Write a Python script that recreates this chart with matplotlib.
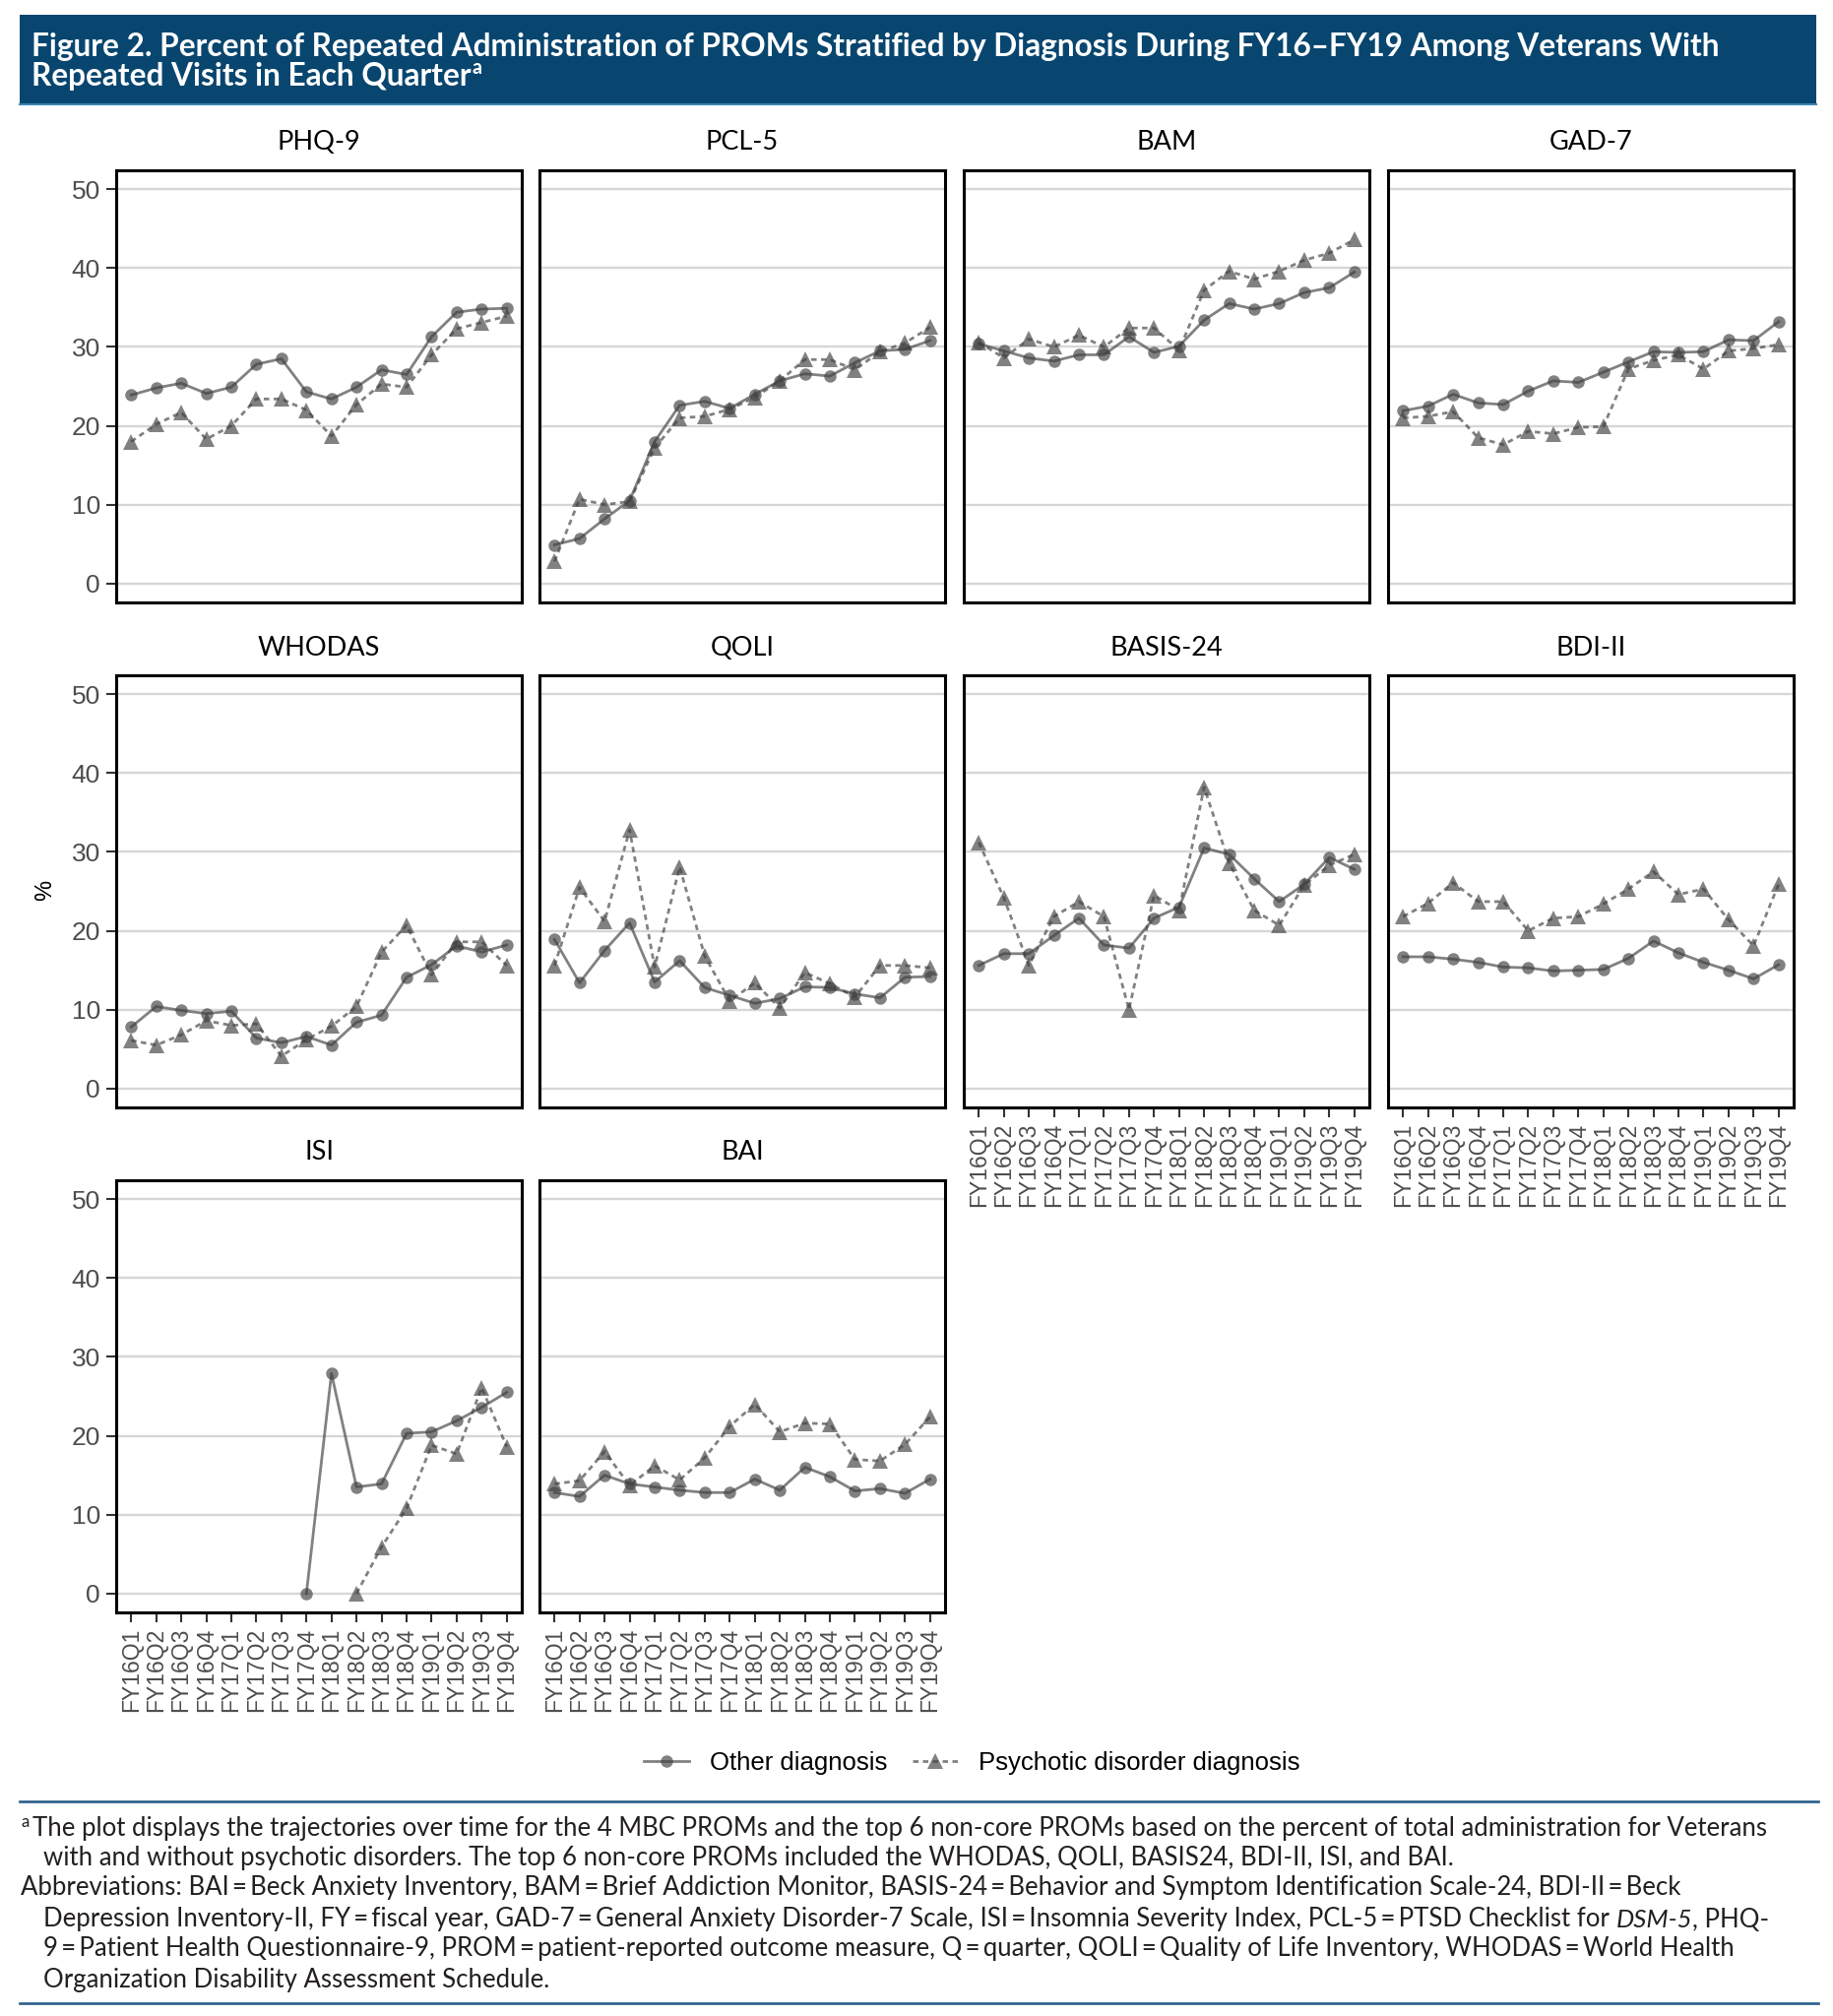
import matplotlib
matplotlib.use("Agg")
import matplotlib.pyplot as plt
from matplotlib.patches import Rectangle
from matplotlib.lines import Line2D
import numpy as np

nan = np.nan

quarters = ["FY16Q1", "FY16Q2", "FY16Q3", "FY16Q4", "FY17Q1", "FY17Q2", "FY17Q3", "FY17Q4",
            "FY18Q1", "FY18Q2", "FY18Q3", "FY18Q4", "FY19Q1", "FY19Q2", "FY19Q3", "FY19Q4"]
panel_names = ["PHQ-9", "PCL-5", "BAM", "GAD-7", "WHODAS", "QOLI", "BASIS-24", "BDI-II", "ISI", "BAI"]
series_names = ["Other diagnosis", "Psychotic disorder diagnosis"]

phq9_other = [23.9, 24.8, 25.4, 24.1, 24.9, 27.8, 28.5, 24.3, 23.4, 24.9, 27.1, 26.5, 31.3, 34.4, 34.8, 34.9]
phq9_psych = [18.0, 20.2, 21.7, 18.3, 20.0, 23.4, 23.4, 22.0, 18.7, 22.7, 25.3, 24.9, 29.0, 32.3, 33.1, 33.9]
pcl5_other = [4.9, 5.7, 8.2, 10.5, 18.0, 22.6, 23.1, 22.2, 24.0, 25.7, 26.6, 26.3, 28.0, 29.5, 29.7, 30.8]
pcl5_psych = [2.8, 10.7, 10.0, 10.4, 17.2, 21.0, 21.2, 22.1, 23.6, 25.7, 28.4, 28.4, 27.1, 29.4, 30.5, 32.5]
bam_other = [30.4, 29.5, 28.6, 28.2, 29.0, 29.0, 31.3, 29.3, 30.1, 33.4, 35.5, 34.8, 35.5, 36.9, 37.5, 39.5]
bam_psych = [30.6, 28.6, 31.0, 30.0, 31.5, 30.0, 32.4, 32.4, 29.6, 37.2, 39.6, 38.6, 39.6, 41.0, 41.9, 43.6]
gad7_other = [21.9, 22.5, 24.0, 22.9, 22.7, 24.4, 25.7, 25.5, 26.8, 28.1, 29.4, 29.3, 29.4, 30.9, 30.8, 33.2]
gad7_psych = [21.0, 21.2, 21.8, 18.5, 17.6, 19.3, 19.0, 19.8, 19.9, 27.2, 28.3, 29.0, 27.2, 29.5, 29.8, 30.3]
whodas_other = [7.8, 10.4, 9.9, 9.5, 9.8, 6.4, 5.8, 6.6, 5.5, 8.4, 9.3, 14.1, 15.7, 18.1, 17.3, 18.2]
whodas_psych = [6.1, 5.5, 6.8, 8.6, 8.0, 8.2, 4.1, 6.2, 7.9, 10.4, 17.3, 20.7, 14.4, 18.6, 18.6, 15.6]
qoli_other = [18.9, 13.4, 17.5, 21.0, 13.5, 16.2, 12.8, 11.8, 10.8, 11.4, 12.9, 12.8, 12.0, 11.5, 14.1, 14.2]
qoli_psych = [15.6, 25.5, 21.2, 32.8, 15.4, 28.1, 16.8, 11.1, 13.4, 10.2, 14.7, 13.3, 11.6, 15.6, 15.6, 15.3]
basis_other = [15.6, 17.1, 17.1, 19.4, 21.6, 18.2, 17.8, 21.6, 23.0, 30.5, 29.7, 26.6, 23.7, 25.9, 29.3, 27.8]
basis_psych = [31.2, 24.2, 15.6, 21.8, 23.7, 21.8, 10.0, 24.5, 22.6, 38.2, 28.6, 22.6, 20.7, 25.8, 28.3, 29.7]
bdi_other = [16.7, 16.7, 16.4, 16.0, 15.4, 15.3, 14.9, 15.0, 15.1, 16.5, 18.7, 17.2, 16.0, 15.0, 13.9, 15.7]
bdi_psych = [21.8, 23.5, 26.1, 23.7, 23.7, 20.0, 21.6, 21.8, 23.4, 25.3, 27.5, 24.6, 25.3, 21.4, 18.1, 25.9]
isi_other = [nan, nan, nan, nan, nan, nan, nan, 0.0, 27.9, 13.5, 13.9, 20.3, 20.5, 21.9, 23.6, 25.5]
isi_psych = [nan, nan, nan, nan, nan, nan, nan, nan, nan, 0.0, 5.9, 10.8, 18.8, 17.7, 26.1, 18.6]
bai_other = [12.8, 12.3, 15.0, 13.9, 13.5, 13.1, 12.8, 12.8, 14.5, 13.1, 16.0, 14.8, 13.0, 13.3, 12.7, 14.5]
bai_psych = [13.9, 14.3, 18.0, 13.7, 16.2, 14.4, 17.2, 21.2, 24.0, 20.5, 21.6, 21.5, 17.0, 16.8, 18.9, 22.4]

other_vals = [phq9_other, pcl5_other, bam_other, gad7_other, whodas_other,
              qoli_other, basis_other, bdi_other, isi_other, bai_other]
psych_vals = [phq9_psych, pcl5_psych, bam_psych, gad7_psych, whodas_psych,
              qoli_psych, basis_psych, bdi_psych, isi_psych, bai_psych]

header_lines = ["Figure 2. Percent of Repeated Administration of PROMs Stratified by Diagnosis During FY16\u2013FY19 Among Veterans With",
                "Repeated Visits in Each Quarter"]
eq = "\u2009=\u2009"
note_1 = "The plot displays the trajectories over time for the 4 MBC PROMs and the top 6 non-core PROMs based on the percent of total administration for Veterans"
note_2 = "with and without psychotic disorders. The top 6 non-core PROMs included the WHODAS, QOLI, BASIS24, BDI-II, ISI, and BAI."
note_3 = ("Abbreviations: BAI" + eq + "Beck Anxiety Inventory, BAM" + eq + "Brief Addiction Monitor, BASIS-24" + eq +
          "Behavior and Symptom Identification Scale-24, BDI-II" + eq + "Beck")
note_4a = ("Depression Inventory-II, FY" + eq + "fiscal year, GAD-7" + eq + "General Anxiety Disorder-7 Scale, ISI" + eq +
           "Insomnia Severity Index, PCL-5" + eq + "PTSD Checklist for")
note_4b = "DSM-5"
note_4c = ", PHQ-"
note_5 = ("9" + eq + "Patient Health Questionnaire-9, PROM" + eq + "patient-reported outcome measure, Q" + eq +
          "quarter, QOLI" + eq + "Quality of Life Inventory, WHODAS" + eq + "World Health")
note_6 = "Organization Disability Assessment Schedule."

W, H = 1862, 2048
fig = plt.figure(figsize=(W / 100, H / 100), dpi=100)
fig.patch.set_facecolor("white")

tick_font = ["Liberation Sans", "DejaVu Sans"]
text_font = ["Lato", "DejaVu Sans"]
head_font = ["Liberation Sans Narrow", "Lato", "DejaVu Sans"]

lefts = [118, 548, 979, 1410]
tops = [173, 686, 1199]
AW, AH = 412, 439
x = np.arange(len(quarters))
line_col = "#404040"

axes = []
for i, name in enumerate(panel_names):
    r, c = divmod(i, 4)
    ax = fig.add_axes([lefts[c] / W, 1 - (tops[r] + AH) / H, AW / W, AH / H])
    axes.append(ax)
    ax.plot(x, other_vals[i], color=line_col, alpha=0.66, lw=2.0, ls="-",
            marker="o", ms=9.0, mew=0, label=series_names[0])
    ax.plot(x, psych_vals[i], color=line_col, alpha=0.66, lw=2.0, ls=(0, (2.0, 1.6)),
            marker="^", ms=11.5, mew=0, label=series_names[1])
    ax.set_xlim(-0.6, len(quarters) - 0.4)
    ax.set_ylim(-2.4, 52.4)
    ax.set_yticks([0, 10, 20, 30, 40, 50])
    ax.set_xticks(x)
    ax.set_xticklabels(quarters, rotation=90, family=tick_font, fontsize=16.5, color="#4d4d4d")
    ax.yaxis.grid(True, color="#d6d6d6", lw=1.7)
    ax.xaxis.grid(False)
    ax.set_axisbelow(True)
    for s in ax.spines.values():
        s.set_color("black")
        s.set_linewidth(2.2)
    ax.tick_params(axis="both", length=7.5, width=1.5, color="#333333", pad=4)
    ax.tick_params(axis="y", labelsize=19, labelcolor="#4d4d4d")
    for lab in ax.get_yticklabels():
        lab.set_family(tick_font)
    if c != 0:
        ax.tick_params(axis="y", left=False, labelleft=False)
    if i not in (6, 7, 8, 9):
        ax.tick_params(axis="x", bottom=False, labelbottom=False)
    ax.text(0.5, 1 + 28 / AH, name, transform=ax.transAxes, ha="center", va="center",
            family=text_font, fontsize=19.5, color="black")

fig.text(46 / W, 1 - 904 / H, "%", rotation=90, ha="center", va="center",
         family=tick_font, fontsize=17, color="black")

handles, labels = axes[0].get_legend_handles_labels()
fig.legend(handles, labels, loc="center", bbox_to_anchor=(987 / W, 1 - 1791 / H), ncol=2,
           frameon=False, handlelength=1.8, handletextpad=0.8, columnspacing=1.0,
           prop={"family": tick_font, "size": 18.5})

# header box
fig.add_artist(Rectangle((20 / W, 1 - 106 / H), 1825 / W, 91 / H, transform=fig.transFigure,
                         facecolor="#08466f", edgecolor="none"))
fig.add_artist(Line2D([20 / W, 1845 / W], [1 - 106 / H, 1 - 106 / H], transform=fig.transFigure,
                      color="#3b86b5", lw=1.5))

renderer = fig.canvas.get_renderer()


def width_px(t):
    return t.get_window_extent(renderer).width


h1 = fig.text(32 / W, 1 - 47 / H, header_lines[0], color="white", fontsize=20, fontweight="bold",
              family=head_font, va="center", ha="left")
h1.set_fontsize(20 * 1722 / width_px(h1))
hsize = h1.get_fontsize()
h2 = fig.text(32 / W, 1 - 78 / H, header_lines[1], color="white", fontsize=hsize, fontweight="bold",
              family=head_font, va="center", ha="left")
e = h2.get_window_extent(renderer)
fig.text((e.x1 + 1) / W, 1 - 69 / H, "a", color="white", fontsize=hsize * 0.62, fontweight="bold",
         family=head_font, va="center", ha="left")

# footnote rules
for yy in (1830, 2035):
    fig.add_artist(Line2D([20 / W, 1847 / W], [1 - yy / H, 1 - yy / H], transform=fig.transFigure,
                          color="#2a5f8c", lw=1.9))

note_col = "#231f20"
fa = fig.text(22 / W, 1 - 1851 / H, "a", color=note_col, fontsize=11, family=text_font, va="center")
n1 = fig.text(33 / W, 1 - 1857 / H, note_1, color=note_col, fontsize=16, family=text_font, va="center")
n1.set_fontsize(16 * 1769 / width_px(n1))
fs = n1.get_fontsize()
fa.set_fontsize(fs * 0.65)
fig.text(44 / W, 1 - 1887 / H, note_2, color=note_col, fontsize=fs, family=text_font, va="center")
fig.text(21 / W, 1 - 1918 / H, note_3, color=note_col, fontsize=fs, family=text_font, va="center")
p1 = fig.text(44 / W, 1 - 1950 / H, note_4a, color=note_col, fontsize=fs, family=text_font, va="center")
sp1 = fig.text(0, 0, "a a", fontsize=fs, family=text_font, alpha=0)
sp2 = fig.text(0, 0, "aa", fontsize=fs, family=text_font, alpha=0)
space = width_px(sp1) - width_px(sp2)
sp1.remove()
sp2.remove()
x1 = p1.get_window_extent(renderer).x1 + space
p2 = fig.text(x1 / W, 1 - 1950 / H, note_4b, color=note_col, fontsize=fs, family=text_font,
              style="italic", va="center")
x2 = p2.get_window_extent(renderer).x1
fig.text(x2 / W, 1 - 1950 / H, note_4c, color=note_col, fontsize=fs, family=text_font, va="center")
fig.text(44 / W, 1 - 1980 / H, note_5, color=note_col, fontsize=fs, family=text_font, va="center")
fig.text(44 / W, 1 - 2012 / H, note_6, color=note_col, fontsize=fs, family=text_font, va="center")

fig.savefig("out.png", dpi=100, facecolor="white")
